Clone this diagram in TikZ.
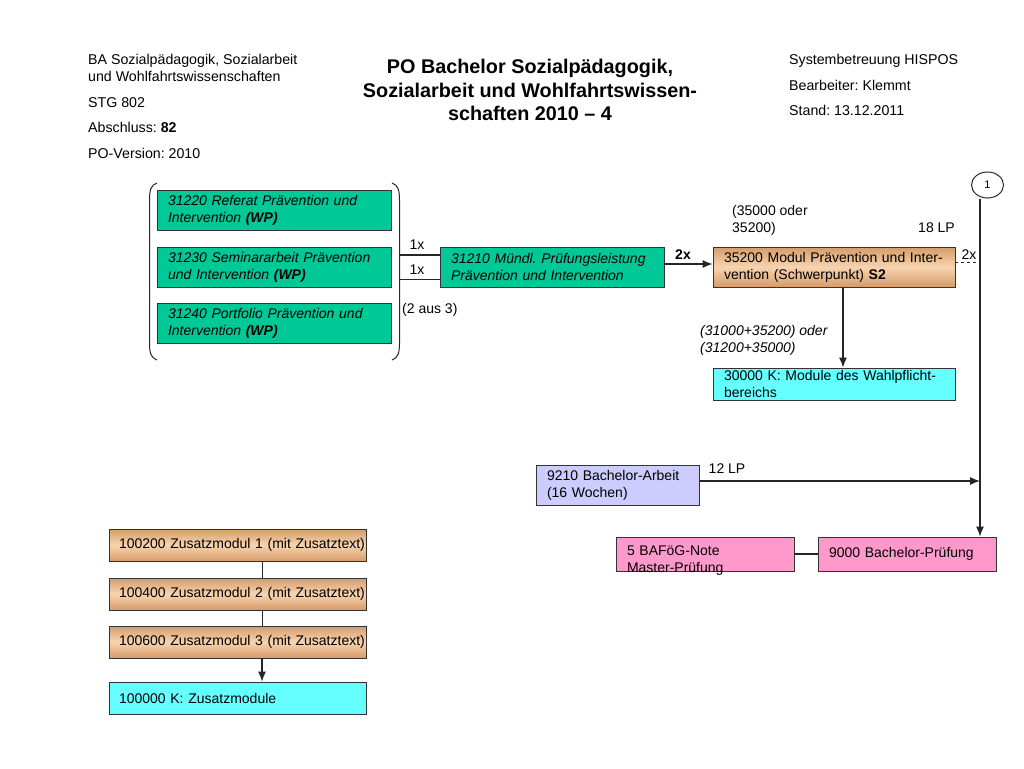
\documentclass[tikz,border=0pt]{standalone}
\usepackage{fontspec}
\setmainfont{Liberation Sans}
\usetikzlibrary{arrows.meta,shapes.geometric}
\definecolor{grn}{RGB}{0,200,150}
\definecolor{tanD}{RGB}{214,155,105}
\definecolor{tanL}{RGB}{247,212,175}
\definecolor{cyanbox}{RGB}{102,255,255}
\definecolor{lav}{RGB}{204,204,255}
\definecolor{pinkbox}{RGB}{255,153,204}
\newcommand\LN[1]{\mbox{#1}}
\frenchspacing
\tikzset{
  box/.style={draw=black!80, line width=0.8pt, rectangle, inner xsep=11pt, inner ysep=0pt,
    align=left, font=\fontsize{14}{17}\selectfont\frenchspacing},
  gbox/.style={box, fill=grn, font=\fontsize{14}{17}\selectfont\itshape\frenchspacing},
  tbox/.style={box, top color=tanD, bottom color=tanD, middle color=tanL},
  cbox/.style={box, fill=cyanbox},
  lbox/.style={box, fill=lav},
  pbox/.style={box, fill=pinkbox},
  conn/.style={line width=1.2pt, black!85},
  arr/.style={conn, -{Latex[length=10pt,width=8pt]}},
  lbl/.style={font=\fontsize{14}{17}\selectfont\frenchspacing, inner sep=0pt},
  hdr/.style={font=\fontsize{14.2}{17}\selectfont\frenchspacing, inner sep=0pt, anchor=base west, align=left},
}
\begin{document}
\begin{tikzpicture}[x=1pt,y=-1pt]
\useasboundingbox[fill=white] (0,0) rectangle (1024,768);

% header
\node[hdr, anchor=north west] (hl) at (88,54) {BA Sozialpädagogik, Sozialarbeit\\und Wohlfahrtswissenschaften};
\node[hdr] (stg) at (88,107) {STG 802};
\node[hdr] (abs) at (88,132) {Abschluss: \textbf{82}};
\node[hdr] (pov) at (88,158) {PO-Version: 2010};
\node[font=\fontsize{19.8}{23.5}\selectfont\bfseries, align=center, inner sep=0pt] (title) at (530,90)
  {PO Bachelor Sozialpädagogik,\\Sozialarbeit und Wohlfahrtswissen-\\schaften 2010 – 4};
\node[hdr] (sys) at (789,64) {Systembetreuung HISPOS};
\node[hdr] (bea) at (789,90) {Bearbeiter: Klemmt};
\node[hdr] (sta) at (789,115) {Stand: 13.12.2011};

% green boxes
\node[gbox, minimum width=234pt, minimum height=40pt, text width=212pt] (g1) at (274,210)
  {\LN{31220 Referat Prävention und}\\\LN{Intervention \textbf{(WP)}}};
\node[gbox, minimum width=234pt, minimum height=40pt, text width=212pt] (g2) at (274,267)
  {\LN{31230 Seminararbeit Prävention}\\\LN{und Intervention \textbf{(WP)}}};
\node[gbox, minimum width=234pt, minimum height=40pt, text width=212pt] (g3) at (274,323)
  {\LN{31240 Portfolio Prävention und}\\\LN{Intervention \textbf{(WP)}}};

% brackets
\draw[line width=1pt, black!85] (157,183) .. controls (151,185) and (149.5,190) .. (149.5,200)
  -- (149.5,343) .. controls (149.5,353) and (151,358) .. (157,360);
\draw[line width=1pt, black!85] (392,183) .. controls (398,185) and (399.5,190) .. (399.5,200)
  -- (399.5,343) .. controls (399.5,353) and (398,358) .. (392,360);
\coordinate (b1) at (399.5,255);
\coordinate (b2) at (399.5,279.5);

\node[gbox, minimum width=224pt, minimum height=40pt, text width=202pt] (m31210) at (552,267)
  {\LN{31210 Mündl. Prüfungsleistung}\\\LN{Prävention und Intervention}};
\draw[conn] (b1) -- (b1 -| m31210.west);
\draw[conn] (b2) -- (b2 -| m31210.west);
\node[lbl] (x1a) at (417,245) {1x};
\node[lbl] (x1b) at (417,269.5) {1x};
\node[lbl, anchor=west] (aus) at (402,310) {(2 aus 3)};

\node[tbox, minimum width=242pt, minimum height=40pt, text width=220pt] (m35200) at (834,267)
  {\LN{35200 Modul Prävention und Inter-}\\\LN{vention (Schwerpunkt) \textbf{S2}}};
\coordinate (ay) at (0,264);
\draw[arr] (m31210.east |- ay) -- (m35200.west |- ay);
\node[lbl, font=\fontsize{14}{17}\selectfont\bfseries] (x2) at (683,255) {2x};
\node[lbl, anchor=north west, align=left] (oder) at (732,205) {(35000 oder\\35200)};
\node[lbl, anchor=east] (lp18) at (955,228) {18 LP};

% circle and main vertical line
\node[draw=black!85, line width=1pt, ellipse, minimum width=32pt, minimum height=26pt, inner sep=0pt,
  font=\fontsize{11}{13}\selectfont] (c1) at (987.5,185) {1};
\coordinate (vx) at (980,0);
\coordinate (vd) at (980,262.5);
\draw[conn, dashed, line width=1pt] (m35200.east |- vd) -- (vd);
\node[lbl] (x2b) at (969,255) {2x};

\node[cbox, minimum width=242pt, minimum height=32pt, text width=220pt] (k30000) at (834,384)
  {\LN{30000 K: Module des Wahlpflicht-}\\\LN{bereichs}};
\coordinate (ax) at (843,0);
\draw[arr] (m35200.south -| ax) -- (k30000.north -| ax);
\node[lbl, anchor=north west, align=left, font=\fontsize{14}{17}\selectfont\itshape\frenchspacing] (alt) at (700,325)
  {(31000+35200) oder\\(31200+35000)};

\node[lbox, minimum width=163pt, minimum height=40pt, text width=141pt] (ba) at (617.5,485)
  {\LN{9210 Bachelor-Arbeit}\\\LN{(16 Wochen)}};
\node[pbox, minimum width=178pt, minimum height=34pt, text width=156pt] (bp) at (907,554)
  {\LN{9000 Bachelor-Prüfung}};
\node[pbox, minimum width=178pt, minimum height=34pt, text width=156pt, text depth=6pt] (baf) at (705,554)
  {\LN{5 BAFöG-Note}\\\LN{Master-Prüfung}};
\draw[arr] (c1.south -| vx) -- (bp.north -| vx);
\coordinate (bx) at (980,481);
\draw[arr] (ba.east |- bx) -- (bx);
\node[lbl] (lp12) at (727,469) {12 LP};
\draw[conn] (baf.east) -- (bp.west);

% Zusatzmodule
\node[tbox, minimum width=257pt, minimum height=32pt, text width=237pt, inner xsep=10pt] (z1) at (237.5,545)
  {\LN{100200 Zusatzmodul 1 (mit Zusatztext)}};
\node[tbox, minimum width=257pt, minimum height=32pt, text width=237pt, inner xsep=10pt] (z2) at (237.5,594)
  {\LN{100400 Zusatzmodul 2 (mit Zusatztext)}};
\node[tbox, minimum width=257pt, minimum height=32pt, text width=237pt, inner xsep=10pt] (z3) at (237.5,642)
  {\LN{100600 Zusatzmodul 3 (mit Zusatztext)}};
\node[cbox, minimum width=257pt, minimum height=32pt, text width=237pt, inner xsep=10pt] (k100000) at (237.5,698)
  {\LN{100000 K: Zusatzmodule}};
\coordinate (zx) at (262,0);
\draw[conn, line width=0.9pt] (z1.south -| zx) -- (z2.north -| zx);
\draw[conn, line width=0.9pt] (z2.south -| zx) -- (z3.north -| zx);
\draw[arr] (z3.south -| zx) -- (k100000.north -| zx);
\end{tikzpicture}
\end{document}
